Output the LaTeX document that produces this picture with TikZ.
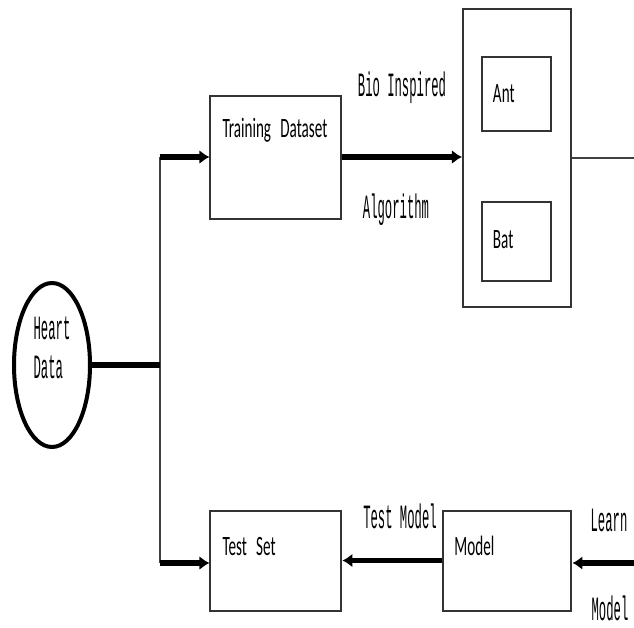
\documentclass[tikz,border=0pt]{standalone}
\usepackage{fontspec}
\usepackage{tikz}
\usetikzlibrary{positioning,arrows.meta,shapes.geometric}
\newfontfamily\boxfont[FakeStretch=0.54]{Carlito}
\newfontfamily\tagfont[FakeStretch=0.36]{Liberation Mono}
\newcommand\boxtext{\boxfont\fontsize{14}{16}\selectfont\spaceskip 2pt\relax}

\begin{document}
\begin{tikzpicture}[
  x=0.5pt, y=-0.5pt,
  blk/.style={draw=black!80, line width=1pt, align=left, inner ysep=0pt,
    font=\boxtext},
  tag/.style={font=\tagfont\fontsize{17}{19.5}\selectfont, inner sep=0pt},
  arr/.style={-{Latex[length=5pt,width=7pt]}, line width=2.8pt},
  wire/.style={line width=1pt, black!75}
]
\useasboundingbox (0,0) rectangle (634,628);
\node[ellipse, draw, line width=2pt, minimum width=38pt, minimum height=82pt,
  tag, align=left, text depth=17.5pt] (heart) at (52,365) {Heart\\Data};
\node[blk, inner xsep=6pt, text width=53.5pt, text height=21pt, text depth=40.5pt] (train) at (276,157) {Training Dataset};
\node[blk, inner xsep=6pt, text width=53.5pt, text height=22.5pt, text depth=27.5pt, below=145pt of train] (test) {Test Set};
\node[blk, inner xsep=5.5pt, text width=53pt, text height=22.5pt, text depth=27.5pt, right=50pt of test] (model) {Model};
\node[blk, minimum width=54pt, minimum height=149pt, inner sep=0pt] (algo) at (517,158) {};
\node[blk, inner xsep=5.5pt, text width=23.5pt, text height=22.5pt, text depth=14.5pt] (ant) at (516.5,94) {Ant};
\node[blk, inner xsep=5.5pt, text width=23.5pt, text height=23pt, text depth=16.5pt, below=34.5pt of ant] (bat) {Bat};
\node[tag] (bio) at (402,88) {Bio Inspired};
\node[tag] (alg) at (396,210) {Algorithm};
\node[tag] (tmod) at (400,516) {Test Model};
\node[tag] (learn) at (609,520) {Learn};
\node[tag] (lmod) at (610,608) {Model};
\coordinate (ftop) at (160,157);
\coordinate (fbot) at (160,563);
\coordinate (outR) at (634,155);
\coordinate (inR) at (634,563);
\draw[wire] (ftop) -- (fbot);
\draw[line width=2.8pt] (heart.east) -- (heart.east -| ftop);
\draw[arr] (ftop) -- (ftop -| train.west);
\draw[arr] (fbot) -- (fbot -| test.west);
\draw[arr] (train.east) -- (train.east -| algo.west);
\draw[wire] (algo.east) -- (algo.east -| outR);
\draw[arr] (model.west) -- (test.east);
\draw[arr] (inR) -- (inR -| model.east);
\end{tikzpicture}
\end{document}
